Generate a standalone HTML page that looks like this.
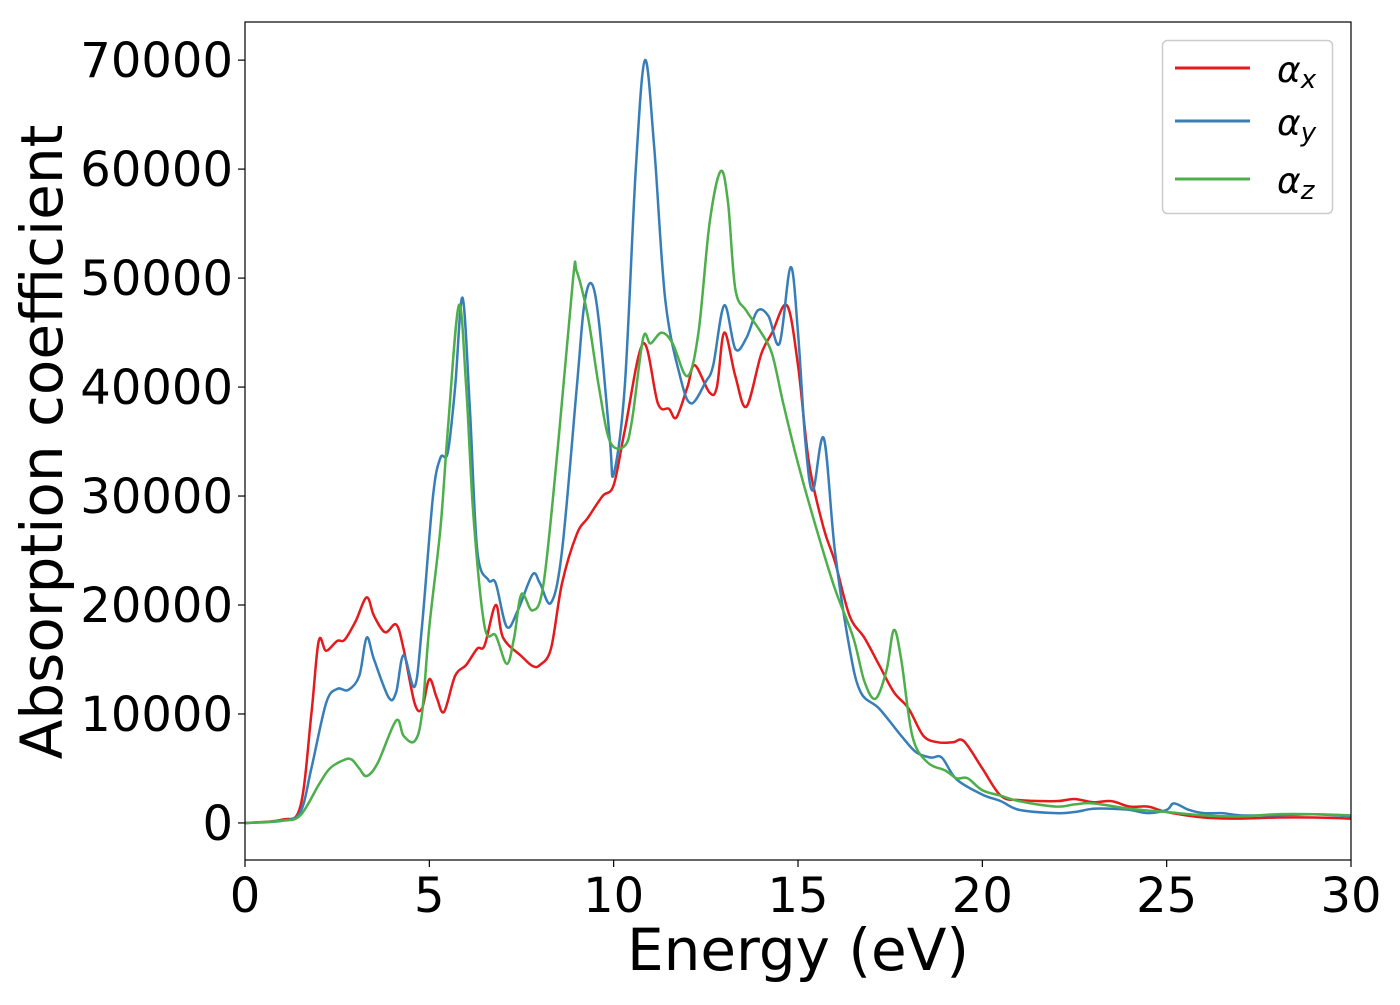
<!DOCTYPE html>
<html><head><meta charset="utf-8"><style>
html,body{margin:0;padding:0;background:#fff;}
svg text{font-family:"DejaVu Sans","Liberation Sans",sans-serif;}
</style></head><body>
<svg id="chart" width="1400" height="1000" xmlns="http://www.w3.org/2000/svg">
<g id="plot"></g>
<g id="axes"></g>
<text x="798" y="970" font-size="58" text-anchor="middle">Energy (eV)</text>
<text transform="translate(62,442) rotate(-90)" font-size="58" text-anchor="middle">Absorption coefficient</text>
<g>
<rect x="1162.5" y="40.5" width="170" height="173" rx="5" fill="#fff" stroke="#ccc" stroke-width="1.5"/>
<g><line x1="1175" y1="68" x2="1250" y2="68" stroke="#e41a1c" stroke-width="3"/><text x="1277" y="82" font-size="36" font-style="italic">α<tspan font-size="26" dy="6">x</tspan></text></g>
<g><line x1="1175" y1="121" x2="1250" y2="121" stroke="#377eb8" stroke-width="3"/><text x="1277" y="135" font-size="36" font-style="italic">α<tspan font-size="26" dy="6">y</tspan></text></g>
<g><line x1="1175" y1="179" x2="1250" y2="179" stroke="#4daf4a" stroke-width="3"/><text x="1277" y="193" font-size="36" font-style="italic">α<tspan font-size="26" dy="6">z</tspan></text></g>
</g>
</svg>
<script>
const xTicks=[0,5,10,15,20,25,30];
const yTicks=[0,10000,20000,30000,40000,50000,60000,70000];
const energyX=[0,1,1.5,1.8,2.0,2.2,2.5,2.7,3.0,3.3,3.5,3.8,4.1,4.3,4.6,4.8,5.0,5.2,5.4,5.7,6.0,6.3,6.5,6.8,7.0,7.5,7.8,8.0,8.3,8.6,9.0,9.3,9.7,10.0,10.3,10.8,11.2,11.5,11.7,12.0,12.2,12.6,12.8,13.0,13.3,13.6,14.0,14.3,14.7,15.0,15.3,15.7,16.0,16.4,16.8,17.2,17.6,18.0,18.4,18.8,19.2,19.5,20.0,20.5,21.0,22.0,22.5,23.0,23.5,24.0,24.5,25.0,26.0,27.0,28.0,29.0,30.0];
const alphaX=[0,300,1500,10000,16700,15800,16700,16800,18500,20700,19000,17500,18200,16000,11000,10500,13200,11500,10200,13500,14500,16000,16300,20000,17000,15300,14400,14500,16000,22000,26500,28000,30000,31000,36000,44000,38500,38000,37200,40000,42000,39500,40000,45000,41000,38200,43000,45000,47500,42000,33000,27000,24000,19000,17000,14500,12000,10500,8000,7400,7400,7500,5000,2500,2100,2000,2200,1900,2000,1500,1500,1000,500,400,500,500,400];
const energyY=[0,1,1.5,1.8,2.2,2.5,2.8,3.1,3.3,3.5,3.9,4.1,4.3,4.6,4.8,5.1,5.3,5.5,5.7,5.9,6.1,6.3,6.6,6.8,7.1,7.4,7.8,8.0,8.3,8.6,9.0,9.2,9.4,9.6,9.9,10.0,10.3,10.6,10.85,11.1,11.4,11.8,12.1,12.5,12.7,13.0,13.3,13.6,13.9,14.2,14.5,14.8,15.0,15.2,15.4,15.7,16.0,16.4,16.7,17.2,17.8,18.2,18.6,18.9,19.3,20.0,20.5,21.0,22.0,22.5,23.0,23.5,24.0,24.5,25.0,25.2,25.6,26.0,26.5,27.0,28.0,29.0,30.0];
const alphaY=[0,200,1000,5000,11000,12300,12200,13500,17000,15000,11500,12000,15400,12500,18000,30000,33500,34000,40000,48200,38000,25000,22300,22000,18000,19500,22800,22000,20200,25000,40000,47500,49500,46000,35000,32000,40000,60000,70000,62000,48000,41000,38500,40500,42000,47500,43500,44500,47000,46500,44000,51000,45000,35000,30500,35300,25000,16000,12000,10500,8000,6500,6000,6000,4000,2600,2000,1200,900,1000,1300,1300,1200,900,1200,1800,1200,900,900,700,700,800,600];
const energyZ=[0,1,1.5,2.0,2.3,2.7,2.9,3.1,3.3,3.6,4.1,4.3,4.6,4.8,5.0,5.3,5.5,5.8,6.0,6.2,6.5,6.8,7.1,7.3,7.5,7.8,8.1,8.5,8.9,9.0,9.3,9.6,9.9,10.3,10.5,10.8,11.0,11.3,11.6,12.0,12.3,12.6,12.9,13.1,13.3,13.6,14.0,14.3,14.6,15.0,15.5,16.0,16.5,16.8,17.1,17.4,17.6,17.8,18.1,18.5,19.0,19.3,19.6,20.0,20.5,21.0,22.0,22.5,23.0,24.0,25.0,26.0,27.0,28.0,29.0,30.0];
const alphaZ=[0,200,700,3500,5000,5800,5800,5000,4300,5500,9400,8000,7500,10000,18000,27000,36000,47500,40000,28000,18000,17200,14600,17000,21000,19500,22000,35000,50000,50600,46500,40000,35000,34600,37000,44500,44000,45000,44000,41000,45000,55000,59800,57000,49000,47000,45000,43000,38500,33000,27000,21500,17000,13000,11400,14000,17700,15000,8000,5600,4800,4100,4100,3000,2500,2000,1500,1700,1800,1300,1000,700,600,800,800,700];

const L=245,R=1351,T=22,B=860;
const xmin=0,xmax=30,ymin=-3400,ymax=73500;
const sx=v=>L+(v-xmin)/(xmax-xmin)*(R-L);
const sy=v=>B-(v-ymin)/(ymax-ymin)*(B-T);
const NS="http://www.w3.org/2000/svg";
const plot=document.getElementById('plot'), axes=document.getElementById('axes');
function smoothPath(xs,ys){
  const p=xs.map((x,i)=>[sx(x),sy(ys[i])]);
  let d=`M${p[0][0]},${p[0][1]}`;
  for(let i=0;i<p.length-1;i++){
    const p0=p[Math.max(0,i-1)],p1=p[i],p2=p[i+1],p3=p[Math.min(p.length-1,i+2)];
    const c1=[p1[0]+(p2[0]-p0[0])/6,p1[1]+(p2[1]-p0[1])/6];
    const c2=[p2[0]-(p3[0]-p1[0])/6,p2[1]-(p3[1]-p1[1])/6];
    d+=` C${c1[0]},${c1[1]} ${c2[0]},${c2[1]} ${p2[0]},${p2[1]}`;
  }
  return d;
}
const series=[[energyX,alphaX,'#e41a1c','series-alpha-x'],[energyY,alphaY,'#377eb8','series-alpha-y'],[energyZ,alphaZ,'#4daf4a','series-alpha-z']];
series.forEach(s=>{
  const path=document.createElementNS(NS,'path');
  path.setAttribute('d',smoothPath(s[0],s[1]));
  path.setAttribute('fill','none');path.setAttribute('stroke',s[2]);path.setAttribute('stroke-width','2.5');
  
  
  plot.appendChild(path);
});
const frame=document.createElementNS(NS,'rect');
frame.setAttribute('x',L);frame.setAttribute('y',T);frame.setAttribute('width',R-L);frame.setAttribute('height',B-T);
frame.setAttribute('fill','none');frame.setAttribute('stroke','#000');frame.setAttribute('stroke-width','1.2');


axes.appendChild(frame);
xTicks.forEach(v=>{
  const l=document.createElementNS(NS,'line');
  l.setAttribute('x1',sx(v));l.setAttribute('x2',sx(v));l.setAttribute('y1',B);l.setAttribute('y2',B+7);l.setAttribute('stroke','#000');l.setAttribute('stroke-width','1.2');
  
  
  axes.appendChild(l);
  const t=document.createElementNS(NS,'text');
  t.setAttribute('x',sx(v));t.setAttribute('y',B+52);t.setAttribute('font-size','48');t.setAttribute('text-anchor','middle');
  t.textContent=v;
  
  
  axes.appendChild(t);
});
yTicks.forEach(v=>{
  const l=document.createElementNS(NS,'line');
  l.setAttribute('x1',L-7);l.setAttribute('x2',L);l.setAttribute('y1',sy(v));l.setAttribute('y2',sy(v));l.setAttribute('stroke','#000');l.setAttribute('stroke-width','1.2');
  
  
  axes.appendChild(l);
  const t=document.createElementNS(NS,'text');
  t.setAttribute('x',L-12);t.setAttribute('y',sy(v)+17);t.setAttribute('font-size','48');t.setAttribute('text-anchor','end');
  t.textContent=v;
  
  
  axes.appendChild(t);
});
</script>
</body></html>
